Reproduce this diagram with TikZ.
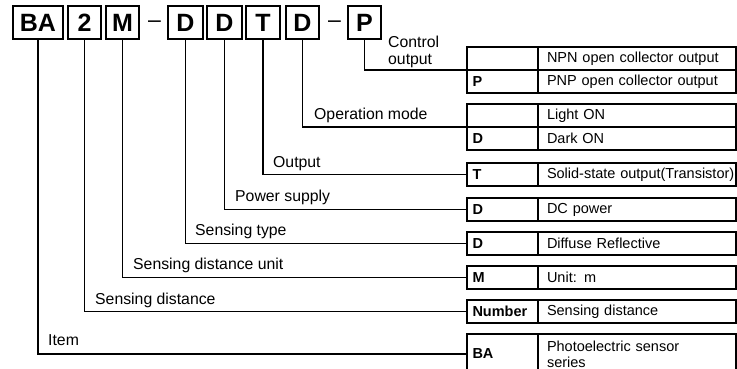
\documentclass[tikz,border=0pt]{standalone}
\usepackage{fontspec}
\setmainfont{Liberation Sans}
\usetikzlibrary{positioning}

\begin{document}
\begin{tikzpicture}[
    x=1pt, y=-1pt,
    node distance=11pt,
    codebox/.style={rectangle, draw, line width=1.4pt, outer sep=0pt, minimum width=33pt, minimum height=33pt, inner sep=0pt, font=\fontsize{25}{25}\selectfont\bfseries},
    dashmark/.style={inner sep=0pt, outer sep=0pt, font=\fontsize{23}{23}\selectfont},
    keycell/.style={rectangle, draw, line width=1.2pt, outer sep=0pt, minimum height=23pt, inner xsep=5.5pt, inner ysep=0pt, text width=60pt, align=left, font=\fontsize{14.5}{16}\selectfont\bfseries},
    valcell/.style={rectangle, draw, line width=1.2pt, outer sep=0pt, minimum height=23pt, inner xsep=9pt, inner ysep=0pt, text width=180pt, align=left, font=\fontsize{14.5}{16}\selectfont},
    lbl/.style={anchor=base west, inner sep=0pt, font=\fontsize{15.8}{17.5}\selectfont},
    lead/.style={line width=1.2pt}
]
\useasboundingbox (0,0) rectangle (737,369);

% Code boxes
\node[codebox, minimum width=50pt] (cBA) at (38,22.5) {BA};
\node[codebox, right=5pt of cBA] (c2) {2};
\node[codebox, right=5pt of c2] (cM) {M};
\node[dashmark, right=9pt of cM, yshift=-2pt] (dash1) {--};
\node[codebox, minimum width=35pt, right=29pt of cM] (cD1) {D};
\node[codebox, minimum width=35pt, right=4pt of cD1] (cD2) {D};
\node[codebox, minimum width=34pt, right=4pt of cD2] (cT) {T};
\node[codebox, right=6pt of cT] (cD3) {D};
\node[dashmark, right=9pt of cD3, yshift=-2pt] (dash2) {--};
\node[codebox, right=29pt of cD3] (cP) {P};

% Control output
\node[keycell, anchor=north west] (kNPN) at (467,47) {};
\node[valcell, right=0pt of kNPN] (vNPN) {NPN open collector output};
\node[keycell, below=0pt of kNPN] (kPNP) {P};
\node[valcell, right=0pt of kPNP] (vPNP) {PNP open collector output};

% Operation mode
\node[keycell, below=of kPNP] (kLight) {};
\node[valcell, right=0pt of kLight] (vLight) {Light ON};
\node[keycell, below=0pt of kLight] (kDark) {D};
\node[valcell, right=0pt of kDark] (vDark) {Dark ON};

% Output
\node[keycell, below=13pt of kDark] (kT) {T};
\node[valcell, right=0pt of kT] (vT) {\mbox{Solid-state output(Transistor)}};

% Power supply
\node[keycell, below=12pt of kT] (kDC) {D};
\node[valcell, right=0pt of kDC] (vDC) {DC power};

% Sensing type
\node[keycell, below=of kDC] (kDiff) {D};
\node[valcell, right=0pt of kDiff] (vDiff) {Diffuse Reflective};

% Sensing distance unit
\node[keycell, below=of kDiff] (kM) {M};
\node[valcell, right=0pt of kM] (vM) {Unit: m};

% Sensing distance
\node[keycell, below=of kM] (kNum) {Number};
\node[valcell, right=0pt of kNum] (vNum) {Sensing distance};

% Item
\node[keycell, below=of kNum, minimum height=40pt] (kBA) {BA};
\node[valcell, right=0pt of kBA, minimum height=40pt] (vBA) {Photoelectric sensor\\series};

% Leaders
\draw[lead] (cP.south) |- (kNPN.south west);
\draw[lead] (cD3.south) |- (kLight.south west);
\draw[lead] (cT.south) |- (kT.west);
\draw[lead] (cD2.south) |- (kDC.west);
\draw[lead] (cD1.south) |- (kDiff.west);
\draw[lead] (cM.south) |- (kM.west);
\draw[lead] (c2.south) |- (kNum.west);
\draw[lead] (cBA.south) |- (kBA.west);

% Labels
\node[lbl, anchor=south west, align=left] (lCtrl) at (388,68) {Control\\output};
\node[lbl] (lOper) at (314,119) {Operation mode};
\node[lbl] (lOut) at (273,167) {Output};
\node[lbl] (lPow) at (235,201) {Power supply};
\node[lbl] (lType) at (195,235) {Sensing type};
\node[lbl] (lUnit) at (133,269) {Sensing distance unit};
\node[lbl] (lDist) at (95,304) {Sensing distance};
\node[lbl] (lItem) at (48,345) {Item};

\end{tikzpicture}
\end{document}
